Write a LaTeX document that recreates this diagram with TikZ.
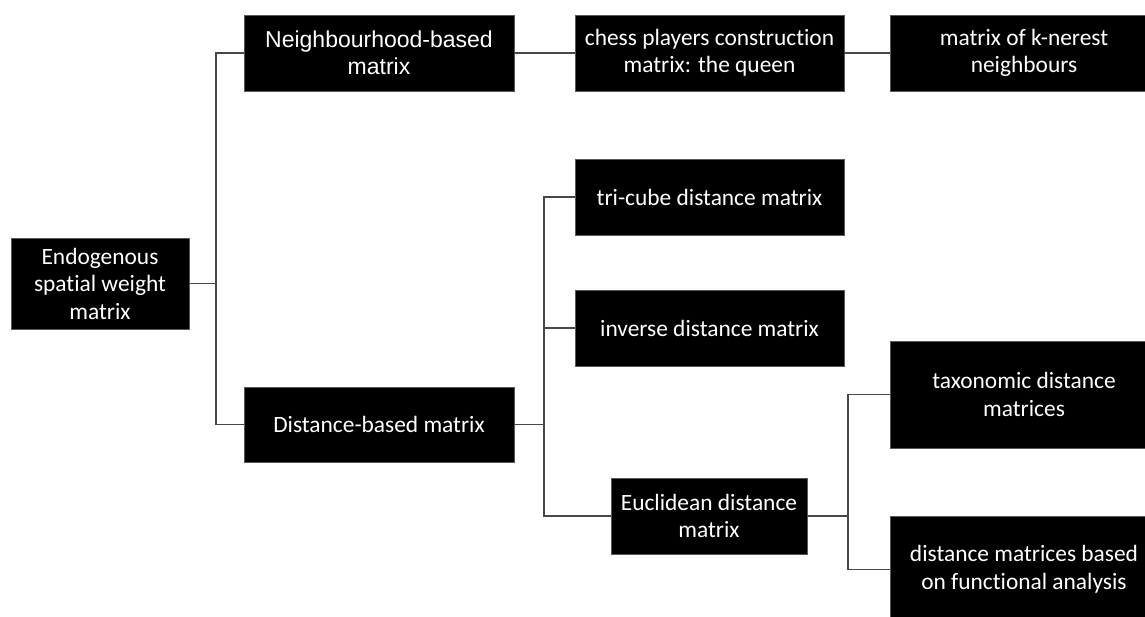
\documentclass[tikz,border=0pt]{standalone}
\usepackage{fontspec}
\setmainfont{Carlito}[Ligatures=NoCommon]
\newfontfamily\arialfont{Liberation Sans}
\begin{document}
\begin{tikzpicture}[x=1pt,y=-1pt,
  box/.style={fill=black,draw=black!65,line width=0.6pt,text=white,align=center,
    inner sep=0pt,font=\fontsize{23.4}{27.5}\selectfont},
  link/.style={draw=black!72,line width=1.4pt}]
\clip (0,0) rectangle (1145,617);
\fill[white] (0,0) rectangle (1145,617);
\node[box,minimum width=178pt,minimum height=91pt] (endo) at (100,283.5) {Endogenous\\spatial weight\\matrix};
\node[box,minimum width=270pt,minimum height=76pt,font=\arialfont\fontsize{23}{27.5}\selectfont] (neigh) at (379,53) {Neighbourhood-based\\matrix};
\node[box,minimum width=270pt,minimum height=75pt] (dist) at (379,424.5) {Distance-based matrix};
\node[box,minimum width=269pt,minimum height=76pt] (chess) at (709.5,53) {chess players construction\\matrix: the queen};
\node[box,minimum width=268pt,minimum height=76pt] (knn) at (1024,53) {matrix of k-nerest\\neighbours};
\node[box,minimum width=269pt,minimum height=76pt] (tricube) at (709.5,197) {tri-cube distance matrix};
\node[box,minimum width=269pt,minimum height=76pt] (inverse) at (709.5,328) {inverse distance matrix};
\node[box,minimum width=196pt,minimum height=76pt] (eucl) at (709,516) {Euclidean distance\\matrix};
\node[box,minimum width=268pt,minimum height=107pt] (tax) at (1024,394.5) {taxonomic distance\\matrices};
\node[box,minimum width=268pt,minimum height=107pt] (func) at (1024,569.5) {distance matrices based\\on functional analysis};
\coordinate (j1) at (216,283.5);
\coordinate (j2) at (544,424.5);
\coordinate (j3) at (848,516);
\draw[link] (endo.east) -- (j1);
\draw[link] (j1) |- (neigh.west);
\draw[link] (j1) |- (dist.west);
\draw[link] (neigh.east) -- (chess.west);
\draw[link] (chess.east) -- (knn.west);
\draw[link] (dist.east) -- (j2);
\draw[link] (j2) |- (tricube.west);
\draw[link] (j2) |- (inverse.west);
\draw[link] (j2) |- (eucl.west);
\draw[link] (eucl.east) -- (j3);
\draw[link] (j3) |- (tax.west);
\draw[link] (j3) |- (func.west);
\end{tikzpicture}
\end{document}
